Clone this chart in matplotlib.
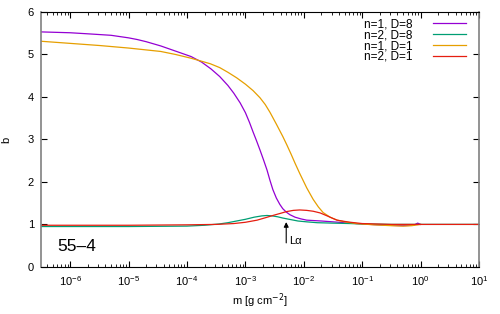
import numpy as np
import matplotlib.pyplot as plt

plt.rcParams['font.family'] = ['Liberation Sans', 'DejaVu Sans']

# log10(m) and b
logm_n1d8 = [-6.5, -6.0, -5.64, -5.3, -5.15, -5.0, -4.85, -4.7, -4.45, -4.2, -3.93, -3.75,
             -3.59, -3.44, -3.3, -3.2, -3.09, -3.0, -2.93, -2.87, -2.81, -2.75, -2.69,
             -2.63, -2.58, -2.53, -2.47, -2.41, -2.36, -2.3, -2.24, -2.15, -2.05, -1.95,
             -1.7, -1.5, -1.2, -1.0, -0.6, -0.3, -0.12, -0.05, 0.0]
b_n1d8 = [5.53, 5.51, 5.48, 5.45, 5.42, 5.39, 5.35, 5.30, 5.20, 5.08, 4.95, 4.82,
          4.66, 4.48, 4.27, 4.09, 3.86, 3.63, 3.40, 3.18, 2.97, 2.75, 2.52,
          2.28, 2.04, 1.82, 1.62, 1.47, 1.37, 1.29, 1.23, 1.17, 1.13, 1.10,
          1.08, 1.06, 1.03, 1.01, 0.98, 0.97, 0.98, 1.03, 1.0]

logm_n2d8 = [-6.5, -6.0, -5.0, -4.0, -3.7, -3.45, -3.3, -3.15, -3.0, -2.85, -2.72,
             -2.63, -2.54, -2.45, -2.36, -2.25, -2.1, -1.95, -1.77, -1.5, -1.2,
             -1.0, -0.5, 0.0, 0.5, 1.0]
b_n2d8 = [0.95, 0.95, 0.95, 0.96, 0.98, 1.01, 1.04, 1.08, 1.12, 1.17, 1.20,
          1.21, 1.20, 1.18, 1.15, 1.12, 1.08, 1.06, 1.04, 1.03, 1.02,
          1.01, 1.0, 1.0, 1.0, 1.0]

logm_n1d1 = [-6.5, -6.0, -5.5, -5.0, -4.45, -4.2, -3.93, -3.8, -3.6, -3.44, -3.3,
             -3.15, -3.0, -2.87, -2.75, -2.66, -2.58, -2.47, -2.36, -2.29, -2.22,
             -2.15, -2.07, -1.95, -1.84, -1.75, -1.67, -1.55, -1.43, -1.3, -1.1,
             -0.8, -0.5, -0.3, -0.15, 0.0]
b_n1d1 = [5.31, 5.26, 5.21, 5.15, 5.07, 5.00, 4.91, 4.86, 4.78, 4.69, 4.58,
          4.45, 4.30, 4.15, 3.98, 3.82, 3.64, 3.36, 3.07, 2.87, 2.66,
          2.44, 2.20, 1.86, 1.59, 1.41, 1.28, 1.17, 1.10, 1.06, 1.02,
          0.99, 0.97, 0.96, 0.97, 1.0]

logm_n2d1 = [-6.5, -6.0, -5.0, -4.0, -3.5, -3.2, -3.0, -2.8, -2.65, -2.53, -2.4,
             -2.3, -2.18, -2.07, -1.95, -1.84, -1.72, -1.6, -1.5, -1.43, -1.3,
             -1.2, -1.0, -0.5, 0.0, 0.5, 1.0]
b_n2d1 = [0.98, 0.98, 0.98, 0.99, 1.0, 1.02, 1.05, 1.10, 1.16, 1.21, 1.26,
          1.30, 1.33, 1.34, 1.33, 1.31, 1.27, 1.20, 1.14, 1.10, 1.07,
          1.05, 1.02, 1.0, 1.0, 1.0, 1.0]

series = [
    ("n=1, D=8", logm_n1d8, b_n1d8, "#9400d3"),
    ("n=2, D=8", logm_n2d8, b_n2d8, "#009e73"),
    ("n=1, D=1", logm_n1d1, b_n1d1, "#e69f00"),
    ("n=2, D=1", logm_n2d1, b_n2d1, "#e51e10"),
]

fig = plt.figure(figsize=(5.0, 3.14), dpi=100)
ax = fig.add_axes([0.082, 0.150, 0.876, 0.812])

for label, lm, b, col in series:
    ax.plot(10.0 ** np.array(lm), b, color=col, lw=0.9, label=label)

ax.set_xscale("log")
ax.set_xlim(10 ** -6.5, 10.0)
ax.set_ylim(0, 6)
ax.set_yticks(range(7))
ax.set_xticks([1e-6, 1e-5, 1e-4, 1e-3, 1e-2, 1e-1, 1, 10])
ax.tick_params(axis="both", which="both", direction="in", top=True, right=True,
               labelsize=8, colors="black")
ax.tick_params(which="major", length=4, pad=5)
ax.tick_params(which="minor", length=2)
for s in ("left", "right"):
    ax.spines[s].set_color("#808080")
    ax.spines[s].set_linewidth(1.2)

ax.set_xlabel("m [g cm$^{-2}$]", fontsize=8, labelpad=3)
ax.set_ylabel("b", fontsize=8, labelpad=12)

ax.annotate("", xy=(5e-3, 1.12), xytext=(5e-3, 0.5),
            arrowprops=dict(arrowstyle="-|>", color="black", lw=0.8,
                            mutation_scale=7))
ax.text(5.6e-3, 0.62, "L\u03b1", fontsize=8, va="center", ha="left")
ax.text(10 ** -6.22, 0.47, "55\u20134", fontsize=12.5, va="center", ha="left")

ax.legend(loc="upper right", fontsize=8.5, frameon=False, markerfirst=False,
          handlelength=2.8, handletextpad=1.7, labelspacing=-0.1,
          borderaxespad=0.15, bbox_to_anchor=(0.985, 1.0))

fig.savefig("out.png", dpi=100)
